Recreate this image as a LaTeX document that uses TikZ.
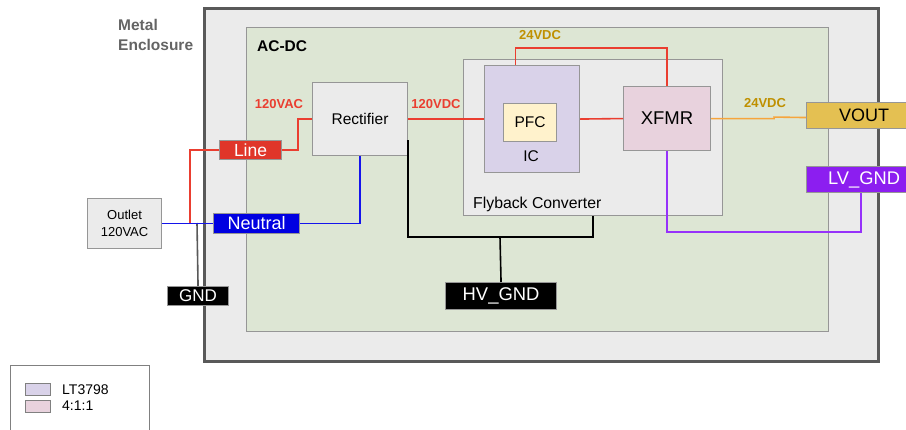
\documentclass[tikz,border=0pt]{standalone}
\usepackage{fontspec}
\setmainfont{Liberation Sans}
\usetikzlibrary{calc}
\definecolor{encfill}{RGB}{235,235,235}
\definecolor{encdraw}{RGB}{89,89,89}
\definecolor{acfill}{RGB}{221,230,212}
\definecolor{bgray}{RGB}{150,150,150}
\definecolor{wred}{RGB}{234,62,48}
\definecolor{boxred}{RGB}{224,54,42}
\definecolor{wblue}{RGB}{20,20,235}
\definecolor{boxblue}{RGB}{0,0,225}
\definecolor{icfill}{RGB}{217,210,233}
\definecolor{pfcfill}{RGB}{255,242,204}
\definecolor{xffill}{RGB}{232,210,221}
\definecolor{voutfill}{RGB}{228,192,82}
\definecolor{lvfill}{RGB}{140,30,240}
\definecolor{wpurple}{RGB}{150,50,250}
\definecolor{gold}{RGB}{191,144,0}
\definecolor{worange}{RGB}{246,165,60}
\definecolor{enctext}{RGB}{100,100,100}
\tikzset{
  blk/.style={draw=bgray, line width=1.1pt, inner sep=0pt, anchor=north west, align=center},
  tag/.style={draw=bgray, line width=1.1pt, inner sep=0pt, anchor=north west, text=white, font=\fontsize{17.5}{20}\selectfont},
  wire/.style={line width=1.6pt},
  vlab/.style={font=\fontsize{13}{15}\selectfont\bfseries, inner sep=0pt},
}
\begin{document}
\begin{tikzpicture}[x=1pt,y=-1pt]
\clip (0,0) rectangle (906,429);
\fill[white] (0,0) rectangle (906,429);
% enclosure
\node[draw=encdraw, fill=encfill, line width=2.8pt, minimum width=674pt, minimum height=353pt, inner sep=0pt, anchor=north west] (enc) at (203,7) {};
\node[anchor=west, text=enctext, align=left, font=\fontsize{15.5}{20}\selectfont\bfseries, inner sep=0pt] (enclbl) at (118,35) {Metal\\Enclosure};
% AC-DC
\node[draw=bgray, fill=acfill, line width=1.1pt, minimum width=582pt, minimum height=304pt, inner sep=0pt, anchor=north west] (acdc) at (246,27) {};
\node[anchor=west, font=\fontsize{15.5}{18}\selectfont\bfseries, inner sep=0pt] (acdclbl) at (257,46) {AC-DC};
% blocks
\node[blk, fill=encfill, minimum width=95pt, minimum height=73pt, font=\fontsize{15.5}{18}\selectfont] (rect) at (312,82) {Rectifier};
\node[blk, fill=encfill, minimum width=259pt, minimum height=156pt] (fly) at (463,59) {};
\node[anchor=west, inner sep=0pt, font=\fontsize{15.8}{18}\selectfont] (flylbl) at (473,204) {Flyback Converter};
\node[blk, fill=icfill, minimum width=95pt, minimum height=107pt] (ic) at (484,65) {};
\node[inner sep=0pt, font=\fontsize{15.5}{18}\selectfont] (iclbl) at (531,156) {IC};
\node[blk, fill=pfcfill, minimum width=53pt, minimum height=38pt, font=\fontsize{15.5}{18}\selectfont] (pfc) at (503,103) {PFC};
\node[blk, fill=xffill, minimum width=87pt, minimum height=64pt, font=\fontsize{18.5}{21}\selectfont] (xfmr) at (623,86) {XFMR};
\node[blk, fill=encfill, minimum width=74pt, minimum height=50pt, font=\fontsize{13}{17}\selectfont] (outlet) at (87,198) {Outlet\\120VAC};
% tags
\node[tag, fill=boxred, minimum width=62pt, minimum height=19pt] (line) at (219,140) {Line};
\node[tag, fill=boxblue, minimum width=86pt, minimum height=20pt, font=\fontsize{18}{20}\selectfont] (neutral) at (213,213) {Neutral};
\node[tag, fill=black, minimum width=61pt, minimum height=19pt, font=\fontsize{17}{20}\selectfont] (gnd) at (167,286) {GND};
\node[tag, fill=black, minimum width=111pt, minimum height=27pt, font=\fontsize{18.4}{21}\selectfont] (hvgnd) at (445,282) {HV\_GND};
\node[tag, fill=voutfill, text=black, minimum width=115pt, minimum height=26pt, font=\fontsize{18}{21}\selectfont] (vout) at (806,102) {VOUT\hspace{20pt}};
\node[tag, fill=lvfill, minimum width=115pt, minimum height=26pt, font=\fontsize{18.3}{21}\selectfont] (lvgnd) at (806,166) {LV\_GND\hspace{20pt}};
% voltage labels
\node[vlab, text=wred] (vac) at (279,104) {120VAC};
\node[vlab, text=wred] (vdc) at (436,104) {120VDC};
\node[vlab, text=gold] (v24a) at (540,35) {24VDC};
\node[vlab, text=gold] (v24b) at (765,103) {24VDC};
% coordinates
\coordinate (jR) at (190,223);
\coordinate (jG) at (197,223);
\coordinate (jH) at (500,237);
\coordinate (pL) at (861,232);
% wires
\draw[wire, wred] (jR) |- (line.west);
\draw[wire, gray!70!black] (jG) -- (gnd.north);
\draw[wire, wblue] (outlet.east) -- (neutral.west);
\draw[wire, wblue] (neutral.east) -| (rect.south);
\draw[wire, wred] (line.east) -- ++(16,0) |- (rect.west);
\draw[wire, wred] (rect.east) -- (ic.west);
\draw[wire, wred] (ic.east) -- (xfmr.west);
\draw[wire, wred] ([xshift=-16.5pt]ic.north) -- ++(0,-17) -| (xfmr.north);
\draw[wire, worange] (xfmr.east) -- ++(63,0) -- ++(0,-1.5) -- ([yshift=-2pt]vout.west);
\draw[wire, wpurple] (xfmr.south) |- (pL) -- (pL |- lvgnd.south);
\draw[wire, black] ([yshift=-21pt]rect.east) |- (jH) -| (fly.south);
\draw[wire, black] (jH) -- (hvgnd.north);
% legend
\node[draw=gray, line width=1.1pt, minimum width=139pt, minimum height=80pt, inner sep=0pt, anchor=north west] (legend) at (10,365) {};
\node[draw=gray, fill=icfill, line width=0.8pt, minimum width=25pt, minimum height=12pt, inner sep=0pt, anchor=north west] (sw1) at (25,383) {};
\node[draw=gray, fill=xffill, line width=0.8pt, minimum width=25pt, minimum height=12pt, inner sep=0pt, anchor=north west] (sw2) at (25,400) {};
\node[anchor=west, inner sep=0pt, font=\fontsize{14}{16}\selectfont] (lg1) at (62,390) {LT3798};
\node[anchor=west, inner sep=0pt, font=\fontsize{14}{16}\selectfont] (lg2) at (62,406) {4:1:1};
\end{tikzpicture}
\end{document}
